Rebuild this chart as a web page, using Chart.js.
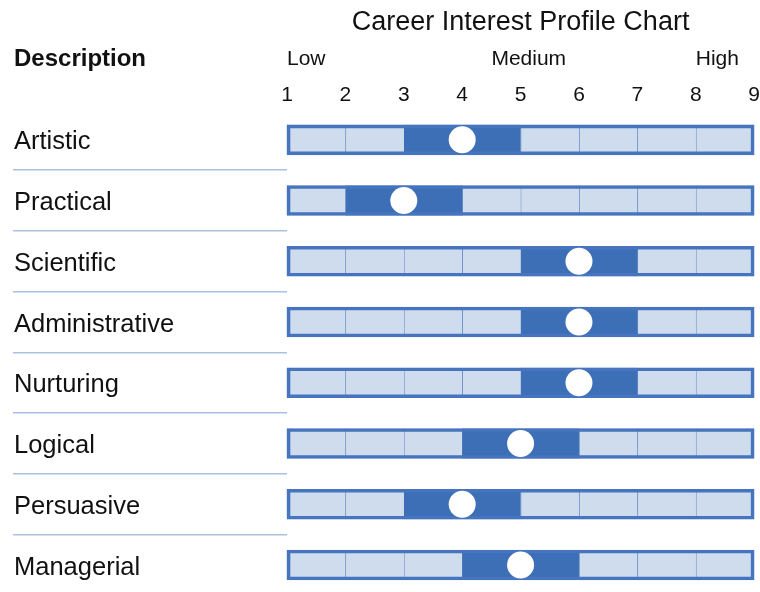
<!DOCTYPE html>
<html>
<head>
<meta charset="utf-8">
<script src="https://cdn.jsdelivr.net/npm/chart.js@4/dist/chart.umd.min.js"></script>
<style>
  html, body { margin: 0; padding: 0; background: #ffffff; }
  canvas { display: block; }
</style>
</head>
<body>
<canvas id="c" width="760" height="592"></canvas>
<script>
// ---- data ----
const categories = ['Artistic', 'Practical', 'Scientific', 'Administrative', 'Nurturing', 'Logical', 'Persuasive', 'Managerial'];
const scores = [4, 3, 6, 6, 6, 5, 4, 5];
const scaleTicks = [1, 2, 3, 4, 5, 6, 7, 8, 9];
const bandLabels = ['Low', 'Medium', 'High'];
const bandPositions = [1.33, 5.14, 8.37];
const highlightHalfWidth = 1;

// ---- styles ----
const LIGHT = '#cfdcee';
const DARK = '#3d6fb7';
const CELL_BORDER = '#5581c2';
const OUTLINE = '#4674bf';
const SEP = '#a9c1e1';
const FONT = "'Liberation Sans', Arial, Helvetica, sans-serif";

function isDark(rowIdx, k) {
  const s = scores[rowIdx];
  return k >= s - highlightHalfWidth && k + 1 <= s + highlightHalfWidth;
}

const cellDatasets = scaleTicks.slice(0, -1).map((k) => ({
  type: 'bar',
  label: 'cell ' + k,
  data: categories.map(() => [k, k + 1]),
  backgroundColor: (ctx) => isDark(ctx.dataIndex, k) ? DARK : LIGHT,
  borderColor: (ctx) => isDark(ctx.dataIndex, k) ? DARK : CELL_BORDER,
  borderWidth: { left: 1, right: 0, top: 0, bottom: 0 },
  borderSkipped: false,
  barThickness: 30,
  grouped: false,
  clip: false,
  order: 3
}));

const outlineDataset = {
  type: 'bar',
  label: 'outline',
  data: categories.map(() => [scaleTicks[0], scaleTicks[scaleTicks.length - 1]]),
  backgroundColor: 'rgba(0,0,0,0)',
  borderColor: OUTLINE,
  borderWidth: 3,
  borderSkipped: false,
  barThickness: 30,
  grouped: false,
  clip: false,
  order: 2
};

const markerDataset = {
  type: 'line',
  label: 'score',
  data: scores,
  showLine: false,
  pointRadius: 13.5,
  pointHoverRadius: 13.5,
  pointBackgroundColor: '#ffffff',
  pointBorderWidth: 0,
  pointBorderColor: '#ffffff',
  clip: false,
  order: 0
};

new Chart(document.getElementById('c'), {
  type: 'bar',
  data: {
    labels: categories,
    datasets: [markerDataset, outlineDataset, ...cellDatasets]
  },
  options: {
    indexAxis: 'y',
    responsive: false,
    animation: false,
    events: [],
    layout: { autoPadding: false, padding: { left: 14, right: 4, top: 0, bottom: 27 } },
    plugins: {
      legend: { display: false },
      tooltip: { enabled: false },
      title: {
        display: true,
        fullSize: false,
        text: 'Career Interest Profile Chart',
        color: '#111111',
        font: { family: FONT, size: 27, weight: 'normal' },
        padding: { top: 6, bottom: 2.6 },
        align: 'center'
      }
    },
    scales: {
      x: {
        type: 'linear',
        position: 'top',
        min: 1,
        max: 9,
        weight: 0,
        grid: { display: false, drawTicks: true, tickLength: 32 },
        border: { display: false },
        ticks: {
          stepSize: 1,
          color: '#111111',
          font: { family: FONT, size: 21 },
          padding: 0,
          maxRotation: 0
        },
        afterFit: (s) => { s.height = 60; }
      },
      x2: {
        type: 'linear',
        position: 'top',
        min: 1,
        max: 9,
        weight: 1,
        grid: { display: false, drawTicks: true, tickLength: 8 },
        border: { display: false },
        afterBuildTicks: (s) => { s.ticks = bandPositions.map((v) => ({ value: v })); },
        ticks: {
          autoSkip: false,
          maxRotation: 0,
          color: '#111111',
          font: { family: FONT, size: 21 },
          padding: 0,
          callback: (v, i) => bandLabels[i]
        },
        afterFit: (s) => { s.height = 38.8; }
      },
      y: {
        type: 'category',
        offset: false,
        border: { display: false },
        grid: {
          display: true,
          offset: true,
          drawOnChartArea: false,
          drawTicks: true,
          tickLength: 274,
          color: SEP,
          lineWidth: 1.5
        },
        ticks: {
          crossAlign: 'far',
          padding: 0,
          labelOffset: 2.5,
          color: '#111111',
          font: { family: FONT, size: 25.5 }
        },
        afterFit: (s) => { s.width = 273; }
      }
    }
  },
  plugins: [{
    id: 'descHeader',
    afterDraw(chart) {
      const ctx = chart.ctx;
      ctx.save();
      ctx.font = 'bold 24px ' + FONT;
      ctx.fillStyle = '#111111';
      ctx.textBaseline = 'middle';
      ctx.textAlign = 'left';
      ctx.fillText('Description', 14, 59);
      ctx.restore();
    }
  }]
});
</script>
</body>
</html>
